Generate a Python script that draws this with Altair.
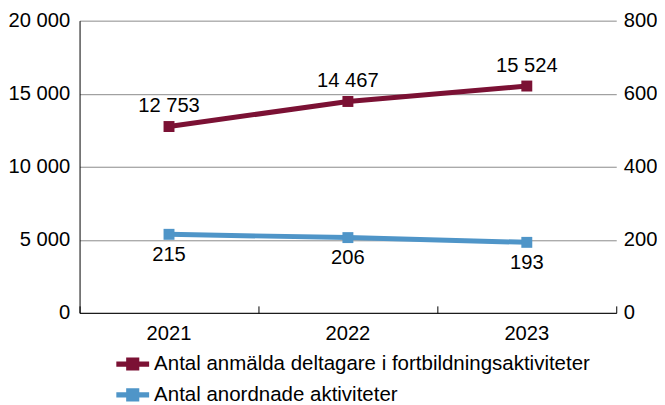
import altair as alt
import pandas as pd

years = ["2021", "2022", "2023"]
series_names = ["Antal anmälda deltagare i fortbildningsaktiviteter", "Antal anordnade aktiviteter"]
deltagare = [12753, 14467, 15524]
aktiviteter = [215, 206, 193]
left_ticks = [0, 5000, 10000, 15000, 20000]
right_ticks = [0, 200, 400, 600, 800]
colors = ["#7B1134", "#4F95C8"]

def fmt(v):
    return f"{v:,}".replace(",", " ")

df_red = pd.DataFrame({"year": years, "value": deltagare, "series": series_names[0],
                       "label": [fmt(v) for v in deltagare]})
df_blue = pd.DataFrame({"year": years, "value": aktiviteter, "series": series_names[1],
                        "label": [fmt(v) for v in aktiviteter]})

FONT = "Liberation Sans"
FS = 20.3
H = 294
xscale = alt.Scale(type="band", paddingInner=0, paddingOuter=0)
color_scale = alt.Scale(domain=series_names, range=colors)
sym = "M-1,-0.16H1V0.16H-1Z M-0.4,-0.4H0.4V0.4H-0.4Z"
legend = alt.Legend(orient="none", legendX=37, legendY=329, direction="vertical", title=None,
                    symbolType=sym, symbolSize=1089, symbolStrokeWidth=0, symbolOpacity=1,
                    labelFontSize=20.6, labelFont=FONT, labelColor="#000", labelOffset=5,
                    rowPadding=3, padding=0, labelLimit=0)
label_expr = "replace(format(datum.value, ',d'), ',', ' ')"

x_bottom = alt.X("year:N", scale=xscale,
                 axis=alt.Axis(orient="bottom", ticks=False, domain=True, domainColor="#000",
                               labelFontSize=FS, labelFont=FONT, labelColor="#000", labelAngle=0,
                               labelPadding=11, title=None, grid=False))
x_top = alt.X("year:N", scale=xscale,
              axis=alt.Axis(orient="top", offset=-H, labels=False, domain=False, ticks=True,
                            tickBand="extent", tickSize=7, tickColor="#000", grid=False, title=None))

yl = alt.Y("value:Q", scale=alt.Scale(domain=[0, 20000], nice=False, zero=True),
           axis=alt.Axis(orient="left", values=left_ticks, labelExpr=label_expr, grid=True,
                         gridColor="#8a8a8a", gridWidth=1, ticks=False, domain=True,
                         domainColor="#000", domainWidth=1, labelPadding=10, labelFontSize=FS,
                         labelFont=FONT, labelColor="#000", title=None))
yr = alt.Y("value:Q", scale=alt.Scale(domain=[0, 800], nice=False, zero=True),
           axis=alt.Axis(orient="right", values=right_ticks, grid=False, ticks=False, domain=False,
                         labelPadding=7, labelFontSize=FS, labelFont=FONT, labelColor="#000",
                         title=None))

# red series (left axis)
red_line = alt.Chart(df_red).mark_line(strokeWidth=5, color=colors[0]).encode(x=x_bottom, y=yl)
red_pts = alt.Chart(df_red).mark_square(size=121, opacity=1, filled=True).encode(
    x=x_bottom, y=yl, color=alt.Color("series:N", scale=color_scale, legend=legend))
red_txt = alt.Chart(df_red).mark_text(dy=-20.5, fontSize=FS, font=FONT, color="#000",
                                      baseline="middle").encode(x=x_bottom, y=yl, text="label:N")
red = alt.layer(red_line, red_pts, red_txt)

# blue series (right axis)
blue_line = alt.Chart(df_blue).mark_line(strokeWidth=5, color=colors[1]).encode(x=x_top, y=yr)
blue_pts = alt.Chart(df_blue).mark_square(size=121, opacity=1, filled=True).encode(
    x=x_top, y=yr, color=alt.Color("series:N", scale=color_scale, legend=legend))
blue_txt = alt.Chart(df_blue).mark_text(dy=21, fontSize=FS, font=FONT, color="#000",
                                        baseline="middle").encode(x=x_top, y=yr, text="label:N")
blue = alt.layer(blue_line, blue_pts, blue_txt)

chart = alt.layer(red, blue).resolve_scale(y="independent", color="shared").resolve_axis(
    x="independent").properties(
    width=540, height=H,
    autosize=alt.AutoSizeParams(type="none"),
    padding={"left": 72, "top": 11.5, "right": 41, "bottom": 91},
).configure_view(stroke=None)

chart.save("out.html", embed_options={"renderer": "svg", "actions": False})
